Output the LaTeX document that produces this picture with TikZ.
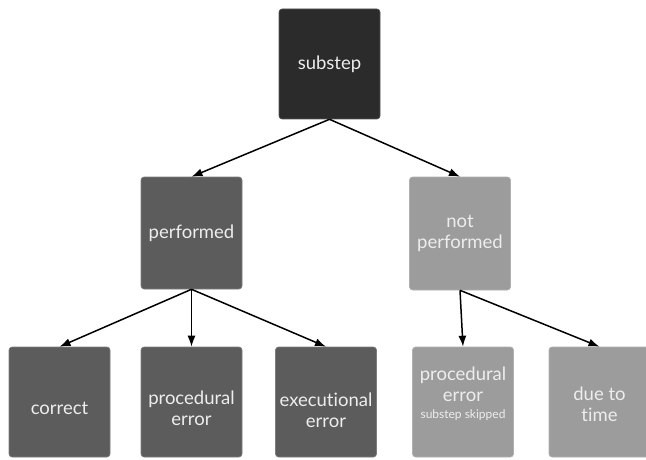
\documentclass[tikz,border=0pt]{standalone}
\usepackage{fontspec}
\setmainfont[Ligatures={NoCommon}]{Lato}
\usetikzlibrary{arrows.meta}
\definecolor{cdark}{HTML}{2B2B2B}
\definecolor{cmid}{HTML}{5C5C5C}
\definecolor{clight}{HTML}{9C9C9C}
\definecolor{ctxt}{HTML}{EDEDED}
\tikzset{
  box/.style={rounded corners=3pt, draw=#1!80!white, line width=0.6pt, fill=#1,
    minimum width=101pt, minimum height=110pt, inner sep=0pt},
  lbl/.style={text=ctxt, font=\fontsize{18.5}{21}\selectfont, align=center, inner sep=0pt},
  conn/.style={line width=1.5pt, -{Latex[length=11pt,width=8pt]}}
}
\begin{document}
\begin{tikzpicture}[x=1pt,y=1pt]
\useasboundingbox (0,0) rectangle (646,459);
\clip (0,0) rectangle (646,459);
% boxes
\node[box=cdark] (sub) at (329.5,395) {};
\node[box=cmid, minimum height=112pt] (perf) at (191.5,226) {};
\node[box=clight, minimum height=113pt] (nperf) at (460,225.5) {};
\node[box=cmid] (corr) at (59.5,57) {};
\node[box=cmid] (proc) at (191.5,57) {};
\node[box=cmid] (exec) at (326,57) {};
\node[box=clight] (skip) at (463,57) {};
\node[box=clight] (time) at (599.5,57) {};
% texts
\node[lbl] (tsub) at (sub.center) {substep};
\node[lbl] (tperf) at (perf.center) {performed};
\node[lbl] (tnperf) at (nperf.center) {not\\performed};
\node[lbl] (tcorr) at ([yshift=-6pt]corr.center) {correct};
\node[lbl] (tproc) at ([yshift=-6pt]proc.center) {procedural\\error};
\node[lbl] (texec) at ([yshift=-8pt]exec.center) {executional\\error};
\node[lbl, anchor=north] (tskip) at ([yshift=35pt]skip.center) {procedural\\error\\[-4pt]{\fontsize{12}{13}\selectfont substep skipped}};
\node[lbl] (ttime) at ([yshift=-2pt]time.center) {due to\\time};
% connectors
\draw[conn] (sub.south) -- (perf.north);
\draw[conn] (sub.south) -- (nperf.north);
\draw[conn] (perf.south) -- (corr.north);
\draw[conn] (perf.south) -- (proc.north);
\draw[conn] (perf.south) -- (exec.north);
\draw[conn] (nperf.south) -- (skip.north);
\draw[conn] (nperf.south) -- (time.north);
\end{tikzpicture}
\end{document}
